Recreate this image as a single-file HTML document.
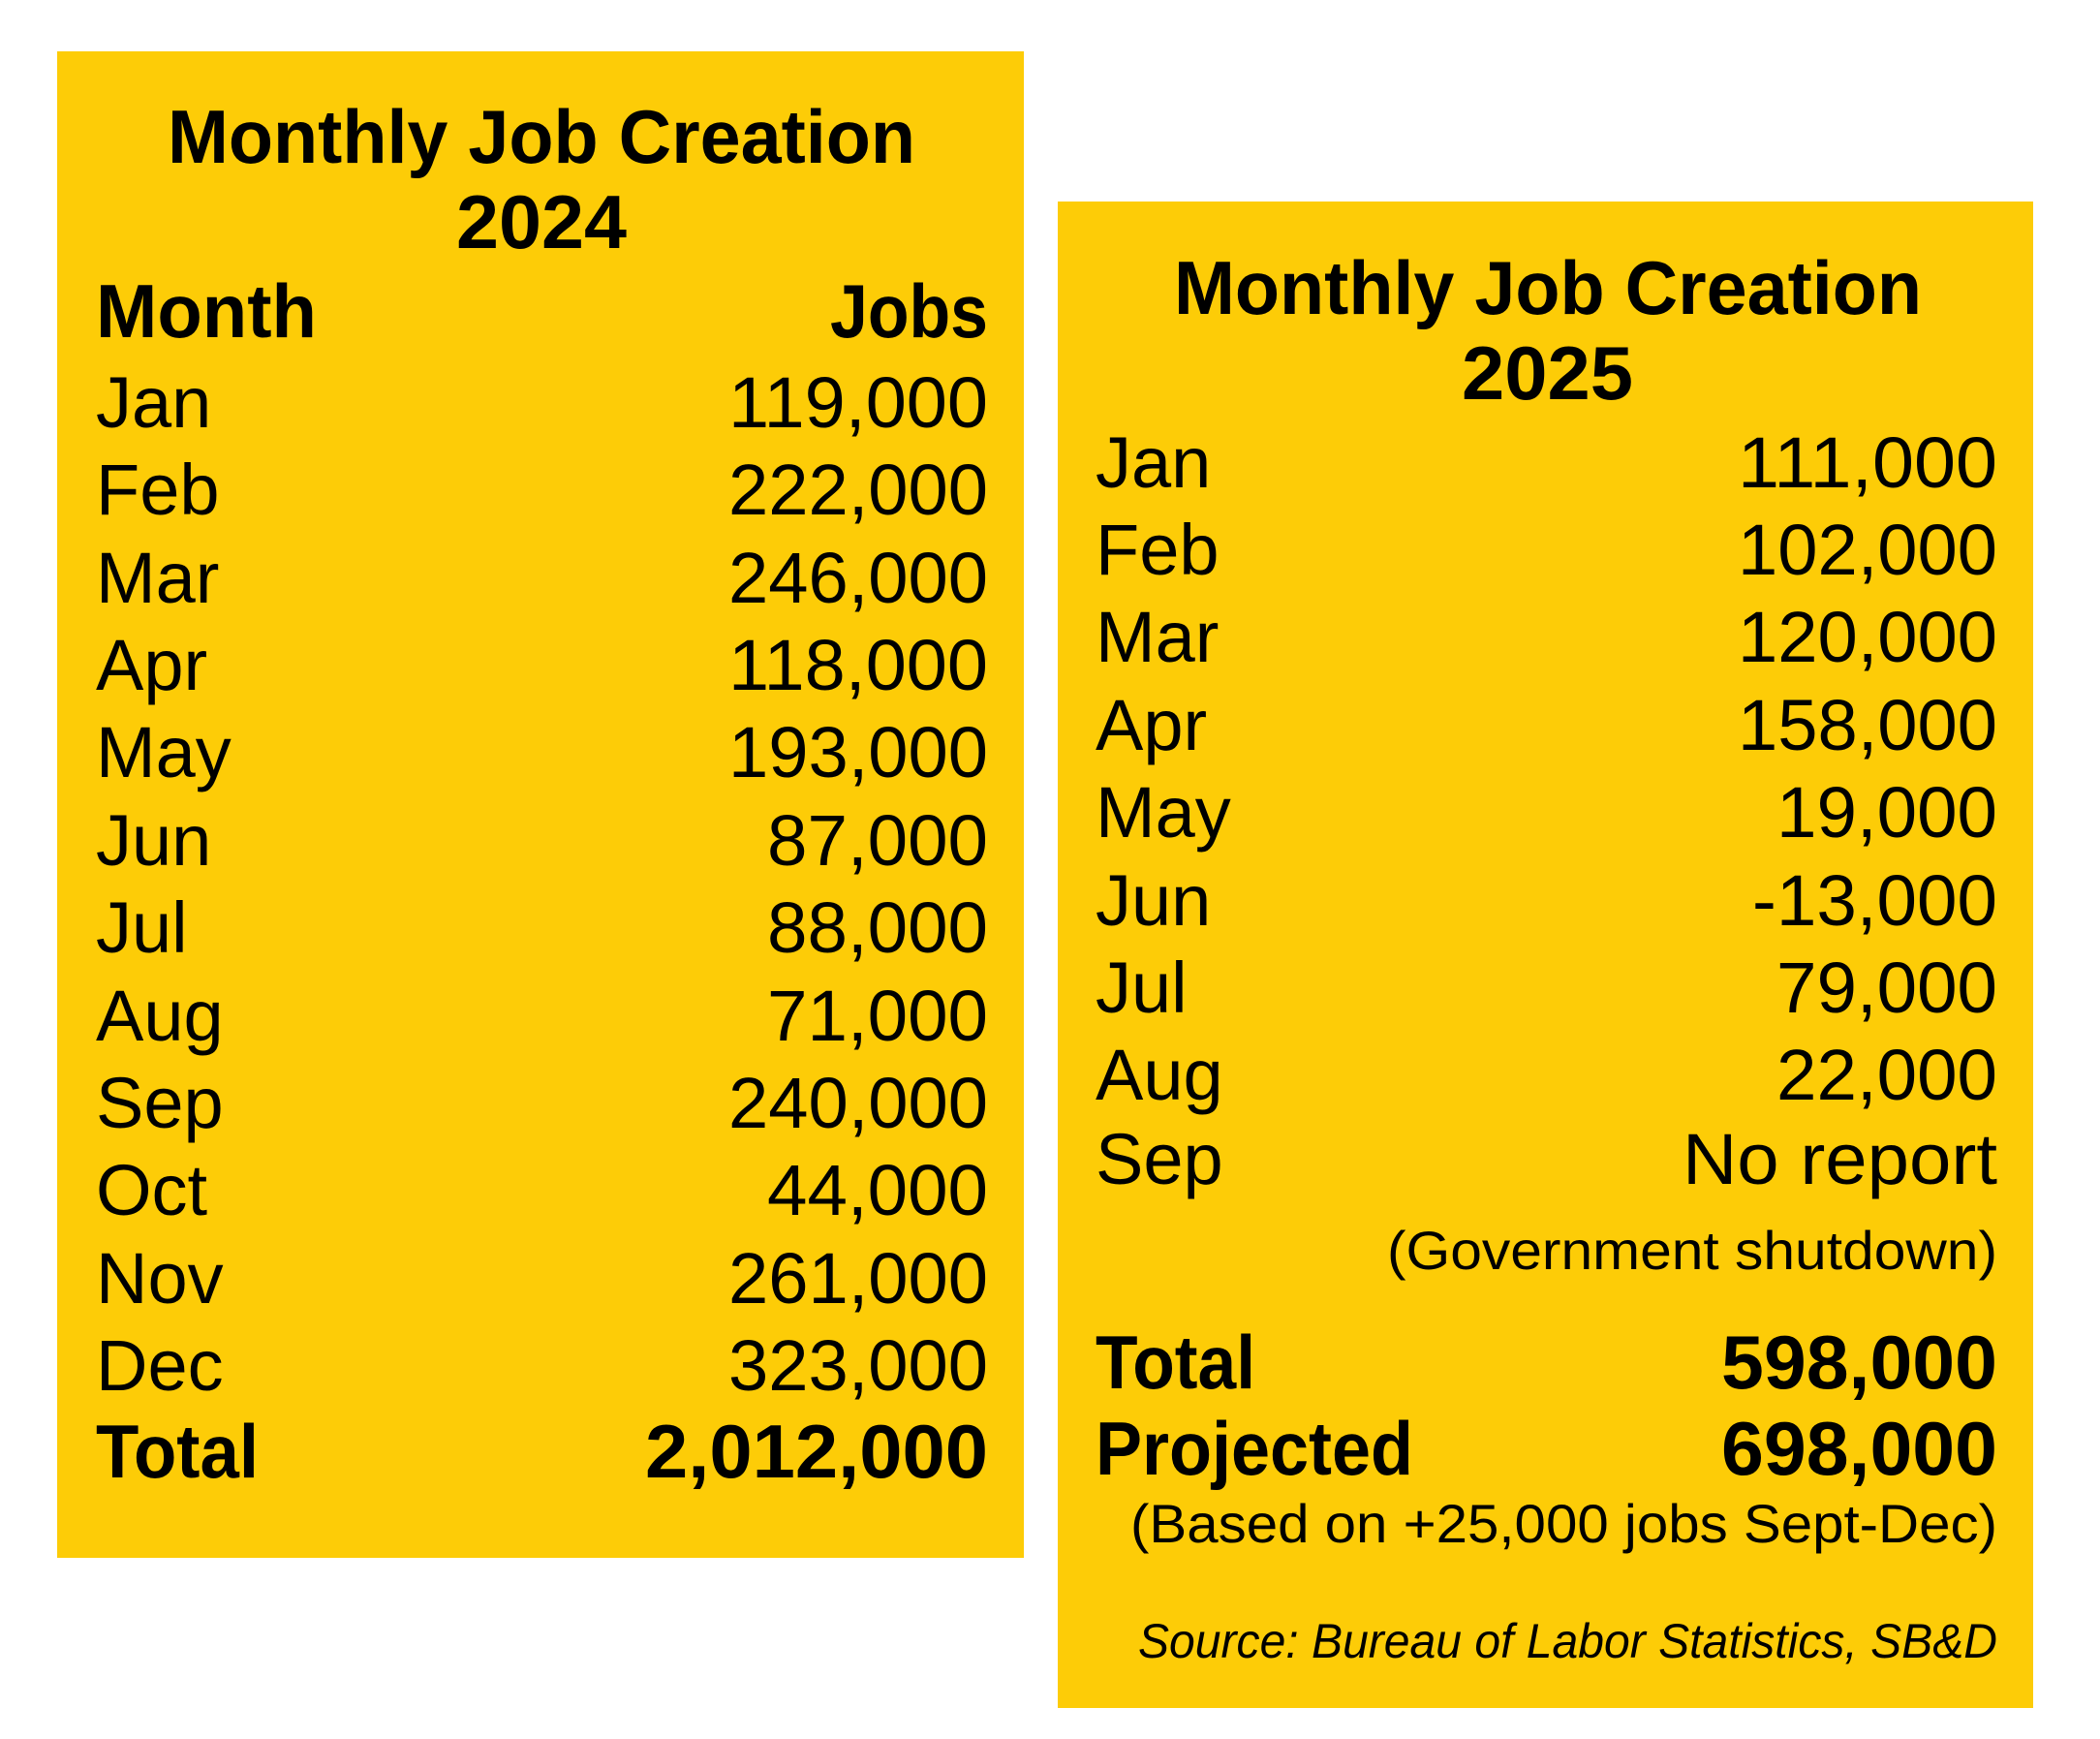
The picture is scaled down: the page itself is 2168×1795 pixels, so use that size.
<!DOCTYPE html>
<html><head><meta charset="utf-8"><style>
html,body{margin:0;padding:0;background:#fff;}
svg{display:block;}
text{font-family:"Liberation Sans",sans-serif;fill:#000;}
.b{font-weight:bold;}
</style></head><body>
<svg width="2168" height="1795" viewBox="0 0 2168 1795" xmlns="http://www.w3.org/2000/svg">
<rect x="0" y="0" width="2168" height="1795" fill="#fff"/>
<rect x="59" y="53" width="998" height="1555" fill="#FDCC07"/>
<rect x="1092" y="208" width="1007" height="1555" fill="#FDCC07"/>

<!-- Left box -->
<text class="b" x="173" y="168" font-size="78" textLength="772" lengthAdjust="spacingAndGlyphs">Monthly Job Creation</text>
<text class="b" x="471" y="256" font-size="78" textLength="176" lengthAdjust="spacingAndGlyphs">2024</text>
<text class="b" x="99" y="348" font-size="78" textLength="228" lengthAdjust="spacingAndGlyphs">Month</text>
<text class="b" x="1020" y="348" font-size="78" text-anchor="end" textLength="163" lengthAdjust="spacingAndGlyphs">Jobs</text>

<g font-size="74">
<text x="99" y="441">Jan</text><text x="1020" y="441" text-anchor="end" textLength="268" lengthAdjust="spacingAndGlyphs">119,000</text>
<text x="99" y="531">Feb</text><text x="1020" y="531" text-anchor="end" textLength="268" lengthAdjust="spacingAndGlyphs">222,000</text>
<text x="99" y="622">Mar</text><text x="1020" y="622" text-anchor="end" textLength="268" lengthAdjust="spacingAndGlyphs">246,000</text>
<text x="99" y="712">Apr</text><text x="1020" y="712" text-anchor="end" textLength="268" lengthAdjust="spacingAndGlyphs">118,000</text>
<text x="99" y="802">May</text><text x="1020" y="802" text-anchor="end" textLength="268" lengthAdjust="spacingAndGlyphs">193,000</text>
<text x="99" y="893">Jun</text><text x="1020" y="893" text-anchor="end" textLength="228" lengthAdjust="spacingAndGlyphs">87,000</text>
<text x="99" y="983">Jul</text><text x="1020" y="983" text-anchor="end" textLength="228" lengthAdjust="spacingAndGlyphs">88,000</text>
<text x="99" y="1074">Aug</text><text x="1020" y="1074" text-anchor="end" textLength="228" lengthAdjust="spacingAndGlyphs">71,000</text>
<text x="99" y="1164">Sep</text><text x="1020" y="1164" text-anchor="end" textLength="268" lengthAdjust="spacingAndGlyphs">240,000</text>
<text x="99" y="1254">Oct</text><text x="1020" y="1254" text-anchor="end" textLength="228" lengthAdjust="spacingAndGlyphs">44,000</text>
<text x="99" y="1345">Nov</text><text x="1020" y="1345" text-anchor="end" textLength="268" lengthAdjust="spacingAndGlyphs">261,000</text>
<text x="99" y="1435">Dec</text><text x="1020" y="1435" text-anchor="end" textLength="268" lengthAdjust="spacingAndGlyphs">323,000</text>
</g>
<text class="b" x="99" y="1525" font-size="78" textLength="168" lengthAdjust="spacingAndGlyphs">Total</text>
<text class="b" x="1020" y="1525" font-size="78" text-anchor="end" textLength="354" lengthAdjust="spacingAndGlyphs">2,012,000</text>

<!-- Right box -->
<text class="b" x="1212" y="324" font-size="78" textLength="772" lengthAdjust="spacingAndGlyphs">Monthly Job Creation</text>
<text class="b" x="1509" y="412" font-size="78" textLength="177" lengthAdjust="spacingAndGlyphs">2025</text>

<g font-size="74">
<text x="1131" y="503">Jan</text><text x="2062" y="503" text-anchor="end" textLength="268" lengthAdjust="spacingAndGlyphs">111,000</text>
<text x="1131" y="593">Feb</text><text x="2062" y="593" text-anchor="end" textLength="268" lengthAdjust="spacingAndGlyphs">102,000</text>
<text x="1131" y="683">Mar</text><text x="2062" y="683" text-anchor="end" textLength="268" lengthAdjust="spacingAndGlyphs">120,000</text>
<text x="1131" y="774">Apr</text><text x="2062" y="774" text-anchor="end" textLength="268" lengthAdjust="spacingAndGlyphs">158,000</text>
<text x="1131" y="864">May</text><text x="2062" y="864" text-anchor="end" textLength="228" lengthAdjust="spacingAndGlyphs">19,000</text>
<text x="1131" y="955">Jun</text><text x="2062" y="955" text-anchor="end" textLength="253" lengthAdjust="spacingAndGlyphs">-13,000</text>
<text x="1131" y="1045">Jul</text><text x="2062" y="1045" text-anchor="end" textLength="228" lengthAdjust="spacingAndGlyphs">79,000</text>
<text x="1131" y="1135">Aug</text><text x="2062" y="1135" text-anchor="end" textLength="228" lengthAdjust="spacingAndGlyphs">22,000</text>
<text x="1131" y="1222">Sep</text><text x="2062" y="1222" text-anchor="end" textLength="325" lengthAdjust="spacingAndGlyphs">No report</text>
</g>
<text x="2062" y="1310" font-size="56" text-anchor="end" textLength="630" lengthAdjust="spacingAndGlyphs">(Government shutdown)</text>

<text class="b" x="1131" y="1433" font-size="78" textLength="165" lengthAdjust="spacingAndGlyphs">Total</text>
<text class="b" x="2062" y="1433" font-size="78" text-anchor="end" textLength="285" lengthAdjust="spacingAndGlyphs">598,000</text>
<text class="b" x="1131" y="1522" font-size="78" textLength="328" lengthAdjust="spacingAndGlyphs">Projected</text>
<text class="b" x="2062" y="1522" font-size="78" text-anchor="end" textLength="285" lengthAdjust="spacingAndGlyphs">698,000</text>
<text x="2062" y="1592" font-size="56" text-anchor="end" textLength="895" lengthAdjust="spacingAndGlyphs">(Based on +25,000 jobs Sept-Dec)</text>
<text x="2062" y="1711" font-size="50" font-style="italic" text-anchor="end" textLength="887" lengthAdjust="spacingAndGlyphs">Source: Bureau of Labor Statistics, SB&amp;D</text>
</svg>
</body></html>
